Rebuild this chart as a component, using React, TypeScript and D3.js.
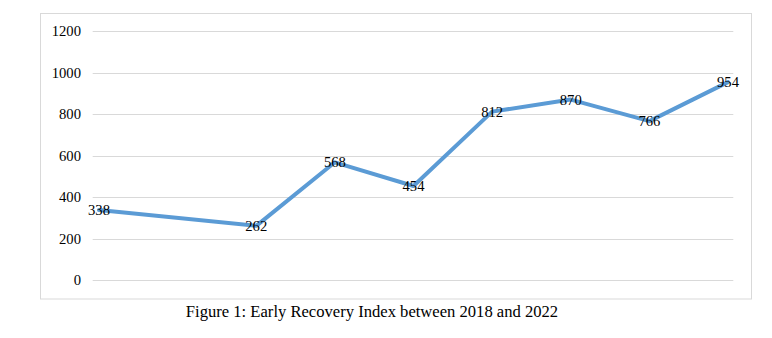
import React from "react";
import * as d3 from "d3";

const categories: string[] = ["P1", "P2", "P3", "P4", "P5", "P6", "P7", "P8", "P9"];
const values: (number | null)[] = [338, null, 262, 568, 454, 812, 870, 766, 954];
const yTicks: number[] = [0, 200, 400, 600, 800, 1000, 1200];
const caption = "Figure 1: Early Recovery Index between 2018 and 2022";

const W = 772;
const H = 338;

export default function App() {
  const x = d3.scalePoint<string>().domain(categories).range([99, 728]);
  const y = d3.scaleLinear().domain([0, 1200]).range([280.3, 31]);
  const pts = categories
    .map((c, i) => ({ c, v: values[i] }))
    .filter((d) => d.v !== null) as { c: string; v: number }[];
  const line = d3
    .line<{ c: string; v: number }>()
    .x((d) => x(d.c) as number)
    .y((d) => y(d.v));
  const font = "'Liberation Serif', 'Times New Roman', serif";
  return (
    <svg
      width={W}
      height={H}
      style={{ position: "absolute", left: 0, top: 0, background: "#fff" }}
    >
      <rect x={40.5} y={13.5} width={711} height={285.5} fill="#fff" stroke="#d9d9d9" strokeWidth={1} />
      {yTicks.map((t) => (
        <g key={t}>
          <line x1={92.7} x2={733.3} y1={Math.round(y(t)) + 0.5} y2={Math.round(y(t)) + 0.5} stroke="#d9d9d9" strokeWidth={1} />
          <text x={81} y={y(t)} textAnchor="end" dominantBaseline="central" fontFamily={font} fontSize={14.67} fill="#000">
            {t}
          </text>
        </g>
      ))}
      <path d={line(pts) || ""} fill="none" stroke="#5B9BD5" strokeWidth={4} strokeLinejoin="round" strokeLinecap="round" />
      {pts.map((d) => (
        <text key={d.c} x={x(d.c)} y={y(d.v)} textAnchor="middle" dominantBaseline="central" fontFamily={font} fontSize={14.67} fill="#000">
          {d.v}
        </text>
      ))}
      <text x={372} y={316.5} textAnchor="middle" fontFamily={font} fontSize={16.6} fill="#000">
        {caption}
      </text>
    </svg>
  );
}
